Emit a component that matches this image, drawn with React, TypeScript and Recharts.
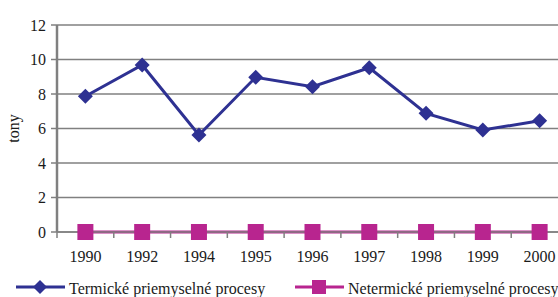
import { LineChart, Line, XAxis, YAxis, CartesianGrid } from 'recharts';

const years = ['1990', '1992', '1994', '1995', '1996', '1997', '1998', '1999', '2000'];
const termicke = [7.87, 9.68, 5.62, 8.97, 8.42, 9.52, 6.88, 5.91, 6.45];
const netermicke = [0, 0, 0, 0, 0, 0, 0, 0, 0];
const yTicks = [0, 2, 4, 6, 8, 10, 12];

const SERIES = [
  { key: 'termicke', name: 'Termické priemyselné procesy', color: '#2E3192', shape: 'diamond' },
  { key: 'netermicke', name: 'Netermické priemyselné procesy', color: '#B8258F', shape: 'square' },
];

const data = years.map((y, i) => ({ year: y, termicke: termicke[i], netermicke: netermicke[i] }));

const FONT = 'Liberation Serif, Times New Roman, Times, serif';
const TEXT = '#1a1a1a';
const CHART_W = 570;
const PLOT_LEFT = 57;
const PLOT_RIGHT = 568;
const BAND = (PLOT_RIGHT - PLOT_LEFT) / years.length;

const Diamond = ({ cx, cy, fill, size = 7.5 }: any) => (
  <path d={`M${cx},${cy - size}L${cx + size},${cy}L${cx},${cy + size}L${cx - size},${cy}Z`} fill={fill} />
);

const Square = ({ cx, cy, fill, size = 7.5 }: any) => (
  <rect x={cx - size} y={cy - size} width={size * 2} height={size * 2} fill={fill} />
);

const XTick = ({ x, y, payload, index }: any) => (
  <g>
    <line x1={x - BAND / 2} x2={x - BAND / 2} y1={y} y2={y + 6} stroke="#808080" strokeWidth={1.5} />
    {index === years.length - 1 && (
      <line x1={x + BAND / 2} x2={x + BAND / 2} y1={y} y2={y + 6} stroke="#808080" strokeWidth={1.5} />
    )}
    <text x={x} y={y + 30} textAnchor="middle" fontSize={16} fontFamily={FONT} fill={TEXT}>
      {payload.value}
    </text>
  </g>
);

const LegendRow = () => (
  <div style={{ position: 'absolute', left: 0, top: 277, width: 558, height: 20, fontFamily: FONT, fontSize: 16, color: TEXT }}>
    {SERIES.map((s, i) => (
      <div key={s.key} style={{ position: 'absolute', left: i === 0 ? 16 : 295, top: 0, display: 'flex', alignItems: 'flex-start', whiteSpace: 'nowrap' }}>
        <svg width={50} height={20} style={{ display: 'block' }}>
          <line x1={0} x2={49} y1={10} y2={10} stroke={s.color} strokeWidth={3} />
          {s.shape === 'diamond'
            ? <Diamond cx={24} cy={10} fill={s.color} size={7} />
            : <Square cx={24} cy={10} fill={s.color} size={7} />}
        </svg>
        <span style={{ marginLeft: 3, lineHeight: '20px', position: 'relative', top: 2 }}>{s.name}</span>
      </div>
    ))}
  </div>
);

export default function App() {
  return (
    <div style={{ position: 'fixed', left: 0, top: 0, width: 558, height: 297, overflow: 'hidden', background: '#fff' }}>
      <LineChart
        width={CHART_W}
        height={297}
        data={data}
        margin={{ top: 25, right: CHART_W - PLOT_RIGHT, bottom: 35, left: 0 }}
      >
        <CartesianGrid vertical={false} stroke="#808080" strokeWidth={1.5} />
        <XAxis
          dataKey="year"
          height={30}
          padding={{ left: BAND / 2, right: BAND / 2 }}
          tickLine={false}
          tickSize={0}
          tickMargin={0}
          interval={0}
          axisLine={{ stroke: '#808080', strokeWidth: 1.5 }}
          tick={<XTick />}
        />
        <YAxis
          width={PLOT_LEFT}
          domain={[0, 12]}
          ticks={yTicks}
          interval={0}
          tickSize={6}
          tickMargin={5}
          axisLine={{ stroke: '#808080', strokeWidth: 2.5 }}
          tickLine={{ stroke: '#808080', strokeWidth: 1.5 }}
          tick={{ fontSize: 16, fontFamily: FONT, fill: TEXT }}
          label={{ value: 'tony', angle: -90, position: 'insideLeft', offset: 13, style: { fontSize: 16, fontFamily: FONT, fill: TEXT, textAnchor: 'middle' } }}
        />
        {SERIES.map((s) => (
          <Line
            key={s.key}
            dataKey={s.key}
            name={s.name}
            stroke={s.color}
            strokeWidth={3}
            isAnimationActive={false}
            dot={(p: any) =>
              s.shape === 'diamond'
                ? <Diamond key={`${s.key}-${p.index}`} cx={p.cx} cy={p.cy} fill={s.color} />
                : <Square key={`${s.key}-${p.index}`} cx={p.cx} cy={p.cy} fill={s.color} size={8} />
            }
            activeDot={false}
          />
        ))}
      </LineChart>
      <LegendRow />
    </div>
  );
}
